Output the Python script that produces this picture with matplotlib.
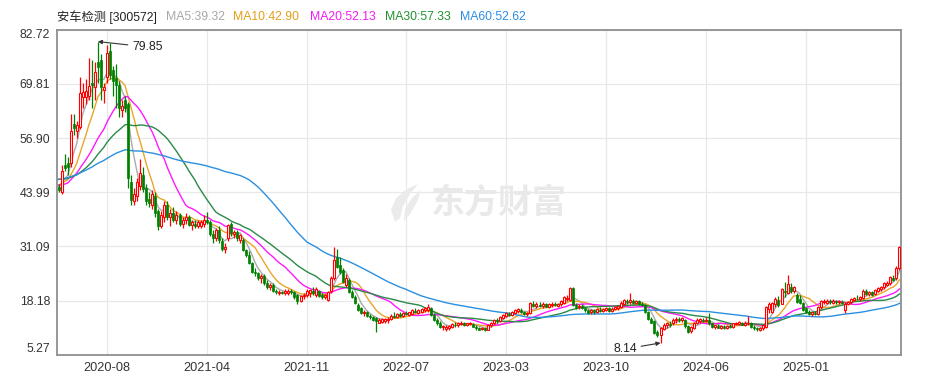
import matplotlib
matplotlib.use('Agg')
import matplotlib.pyplot as plt
from matplotlib.patches import Polygon
import numpy as np
import pandas as pd

plt.rcParams['font.family'] = ['Liberation Sans', 'Noto Sans CJK SC', 'DejaVu Sans']

title = "安车检测 [300572]"
ma_labels = ["MA5:39.32", "MA10:42.90", "MA20:52.13", "MA30:57.33", "MA60:52.62"]
ma_windows = [5, 10, 20, 30, 60]
x_tick_pos = [16, 49, 82, 115, 148, 181, 214, 247]
x_tick_labels = ["2020-08", "2021-04", "2021-11", "2022-07", "2023-03", "2023-10", "2024-06", "2025-01"]
y_ticks = [5.27, 18.18, 31.09, 43.99, 56.90, 69.81, 82.72]
high_label = 79.85
low_label = 8.14

# weekly closes before the visible window (used only for the moving averages)
prior_closes = [40.5, 41.2, 42.0, 43.1, 44.5, 45.0, 46.2, 47.5, 48.0, 47.2,
                46.5, 45.8, 46.9, 48.3, 49.0, 48.1, 47.3, 46.0, 45.2, 46.4,
                47.8, 49.2, 50.5, 49.7, 48.6, 47.9, 48.8, 50.1, 51.3, 50.2,
                49.0, 48.2, 47.5, 48.9, 50.4, 51.8, 52.6, 51.5, 50.3, 49.1,
                47.6, 46.3, 45.1, 43.8, 42.9, 44.2, 45.6, 46.8, 47.9, 46.7,
                45.5, 44.8, 45.9, 47.1, 46.3, 45.4, 44.9, 45.8, 46.5]

opens = [45.3, 44.0, 50.5, 51.0, 51.0, 60.3, 58.5, 59.5, 66.7, 66.7,
         66.8, 70.0, 69.1, 74.9, 75.5, 68.3, 71.4, 77.5, 73.0, 71.2,
         69.5, 63.5, 66.0, 65.0, 46.5, 42.0, 43.0, 45.5, 48.0, 45.0,
         42.5, 41.0, 43.0, 39.5, 36.0, 38.0, 41.0, 38.0, 39.0, 37.5,
         38.5, 36.5, 37.5, 38.0, 36.3, 36.5, 36.0, 36.0, 36.5, 37.5,
         37.0, 34.0, 33.0, 35.0, 32.5, 30.5, 33.1, 36.5, 34.0, 34.5,
         32.6, 32.6, 30.2, 29.0, 27.2, 25.0, 24.8, 23.5, 24.0, 22.4,
         21.5, 22.0, 20.5, 20.0, 20.3, 20.0, 20.0, 20.6, 20.2, 19.5,
         18.2, 19.2, 19.5, 20.0, 20.5, 19.5, 20.5, 19.5, 19.0, 18.3,
         20.5, 23.5, 28.6, 26.7, 25.5, 22.0, 23.0, 20.3, 19.0, 17.2,
         16.5, 15.3, 15.5, 14.5, 14.2, 14.0, 13.0, 13.2, 13.3, 13.5,
         13.9, 14.6, 14.4, 15.0, 14.6, 15.2, 14.8, 15.0, 15.8, 15.3,
         15.6, 16.0, 16.0, 16.5, 14.8, 13.6, 12.8, 11.9, 11.5, 11.8,
         12.0, 12.5, 12.3, 12.6, 12.8, 12.4, 12.6, 12.7, 12.0, 11.6,
         11.4, 11.8, 11.3, 12.3, 12.8, 13.5, 13.3, 14.0, 14.6, 15.0,
         14.8, 15.3, 15.8, 16.0, 15.4, 15.1, 15.3, 17.4, 16.9, 17.2,
         17.0, 17.3, 16.8, 17.1, 17.4, 17.0, 17.3, 17.6, 18.6, 18.4,
         21.2, 17.2, 16.6, 17.0, 16.5, 16.0, 15.4, 15.9, 15.4, 16.0,
         15.7, 16.0, 16.4, 15.8, 16.2, 16.5, 16.8, 17.5, 18.2, 17.8,
         18.1, 17.7, 18.0, 17.5, 17.2, 15.5, 13.9, 13.3, 10.8, 10.0,
         11.5, 12.3, 12.6, 12.8, 13.5, 13.8, 13.5, 13.7, 12.2, 10.9,
         11.8, 12.8, 13.3, 13.6, 13.4, 13.6, 12.8, 11.9, 12.2, 11.8,
         12.0, 11.7, 12.1, 12.0, 12.6, 12.7, 12.9, 12.5, 12.8, 12.9,
         12.0, 11.6, 11.3, 11.6, 12.0, 16.2, 15.5, 17.3, 18.3, 17.5,
         20.5, 20.0, 21.5, 20.4, 19.5, 18.5, 17.6, 16.4, 15.6, 15.1,
         15.3, 15.0, 16.6, 17.8, 17.7, 18.0, 17.7, 18.0, 17.8, 17.9,
         16.0, 17.5, 17.8, 18.3, 18.7, 18.5, 18.9, 20.4, 19.7, 20.2,
         19.7, 20.5, 21.0, 21.4, 22.0, 22.3, 23.5, 23.6, 26.0]

highs = [46.0, 50.5, 53.0, 52.5, 62.5, 62.5, 61.0, 71.5, 70.0, 71.0,
         76.0, 75.5, 75.0, 79.85, 77.0, 70.0, 79.0, 79.6, 74.0, 74.5,
         70.5, 66.0, 67.0, 65.5, 48.0, 45.0, 47.5, 52.0, 50.0, 46.0,
         44.0, 44.5, 44.0, 40.0, 39.5, 42.0, 42.0, 40.0, 40.5, 39.5,
         39.0, 38.0, 39.0, 38.5, 37.5, 37.5, 37.5, 37.5, 38.5, 39.3,
         37.5, 35.0, 35.5, 36.0, 33.0, 32.0, 36.5, 37.0, 35.0, 35.0,
         34.0, 33.0, 30.5, 30.0, 27.5, 26.0, 25.0, 24.5, 24.5, 23.0,
         22.5, 22.4, 21.0, 20.8, 20.6, 21.0, 21.0, 21.0, 20.5, 19.8,
         19.5, 20.0, 21.0, 21.0, 21.5, 21.5, 20.8, 20.0, 19.8, 20.5,
         24.0, 31.0, 30.5, 28.5, 26.0, 24.5, 23.5, 20.8, 19.5, 17.6,
         16.8, 16.0, 15.8, 15.0, 14.5, 14.3, 14.0, 14.0, 14.0, 14.2,
         15.0, 15.5, 15.2, 15.6, 15.4, 15.8, 15.6, 16.2, 16.5, 16.2,
         16.5, 16.8, 17.3, 16.8, 15.2, 14.0, 13.3, 12.5, 12.3, 12.5,
         13.0, 13.2, 13.1, 13.3, 13.2, 13.0, 13.2, 13.0, 12.3, 12.0,
         12.0, 12.0, 12.6, 13.2, 13.8, 14.0, 14.5, 15.0, 15.6, 15.5,
         15.8, 16.3, 16.5, 16.5, 15.8, 15.5, 17.8, 18.2, 17.8, 17.9,
         17.8, 17.7, 17.6, 17.8, 17.9, 17.6, 18.3, 19.3, 19.5, 21.5,
         21.4, 17.6, 17.3, 17.4, 16.7, 16.3, 16.2, 16.1, 16.4, 16.6,
         16.4, 16.8, 16.7, 16.6, 16.9, 17.2, 18.0, 18.6, 18.6, 20.0,
         18.5, 18.4, 18.3, 17.9, 17.4, 15.8, 14.2, 13.6, 11.3, 12.0,
         12.8, 13.2, 13.3, 14.0, 14.2, 14.3, 14.3, 13.9, 12.5, 12.2,
         13.2, 14.0, 14.1, 14.0, 14.3, 15.3, 13.0, 12.5, 12.6, 12.4,
         12.5, 12.3, 12.6, 13.0, 13.2, 13.3, 13.2, 13.3, 14.5, 13.1,
         12.4, 12.0, 12.0, 12.5, 16.9, 17.8, 17.8, 19.0, 19.2, 21.3,
         22.6, 24.3, 22.5, 21.8, 20.0, 19.5, 17.9, 16.8, 16.0, 15.6,
         15.8, 16.9, 18.4, 18.6, 18.5, 18.6, 18.5, 18.4, 18.3, 18.4,
         17.8, 18.2, 18.8, 19.0, 19.5, 19.3, 20.9, 21.0, 20.5, 20.6,
         21.0, 21.5, 21.8, 22.6, 22.8, 24.0, 24.3, 26.5, 31.1]

lows = [44.0, 43.5, 49.0, 48.0, 50.0, 57.5, 57.0, 59.0, 64.0, 65.0,
        66.0, 64.0, 66.0, 70.0, 66.0, 65.2, 70.0, 71.0, 67.0, 64.0,
        62.0, 62.0, 63.0, 45.0, 41.0, 41.0, 42.0, 44.5, 44.0, 41.0,
        40.5, 40.0, 38.0, 35.0, 35.5, 37.0, 37.5, 36.0, 37.0, 36.5,
        36.0, 35.5, 36.5, 36.0, 35.0, 35.5, 35.5, 35.5, 35.8, 36.5,
        33.5, 32.0, 32.5, 32.0, 30.0, 29.5, 32.5, 33.5, 33.0, 32.5,
        32.0, 30.0, 28.5, 27.0, 24.8, 24.0, 23.0, 22.5, 22.0, 21.0,
        20.7, 20.2, 19.8, 19.5, 19.7, 19.6, 19.5, 19.8, 18.5, 17.5,
        17.8, 18.5, 19.0, 19.0, 19.5, 19.0, 19.0, 18.5, 18.5, 18.0,
        20.0, 23.0, 26.0, 24.5, 22.5, 21.5, 20.0, 18.8, 17.4, 15.8,
        15.0, 14.5, 14.2, 13.8, 13.3, 10.7, 12.8, 12.9, 13.0, 13.0,
        13.5, 14.0, 14.0, 14.3, 14.3, 14.8, 14.5, 14.8, 15.3, 15.0,
        15.3, 15.6, 15.6, 14.5, 13.3, 12.5, 11.6, 11.3, 11.0, 11.2,
        11.8, 12.0, 12.0, 12.3, 12.2, 12.1, 12.3, 11.9, 11.3, 11.1,
        11.1, 11.0, 11.1, 12.0, 12.5, 13.0, 13.1, 13.8, 14.3, 14.5,
        14.5, 15.0, 15.3, 15.2, 14.8, 14.6, 15.0, 16.6, 16.5, 16.7,
        16.5, 16.6, 16.4, 16.8, 16.9, 16.7, 17.0, 17.4, 18.0, 18.2,
        17.0, 16.3, 16.2, 16.3, 15.6, 15.0, 15.1, 15.0, 15.2, 15.5,
        15.4, 15.7, 15.6, 15.5, 15.9, 16.0, 16.5, 17.2, 17.5, 17.4,
        17.4, 17.3, 17.2, 16.9, 15.3, 13.6, 12.8, 10.3, 9.5, 8.14,
        11.2, 11.8, 11.9, 12.5, 13.0, 13.2, 13.2, 11.8, 10.5, 10.6,
        11.5, 12.6, 12.9, 13.1, 13.2, 12.5, 11.6, 11.5, 11.6, 11.5,
        11.4, 11.5, 11.7, 11.8, 12.3, 12.4, 12.3, 12.2, 12.5, 11.7,
        11.3, 11.0, 11.0, 11.3, 11.8, 15.3, 15.3, 16.7, 16.8, 17.3,
        19.0, 19.8, 20.0, 20.0, 17.6, 17.4, 15.8, 15.3, 14.8, 14.6,
        14.7, 14.8, 16.3, 17.3, 17.4, 17.5, 17.4, 17.5, 17.4, 17.3,
        15.2, 17.2, 17.5, 18.0, 18.3, 18.2, 18.6, 19.5, 19.3, 19.4,
        19.5, 20.2, 20.6, 21.0, 21.6, 22.0, 22.8, 23.2, 25.5]

closes = [44.6, 49.0, 49.8, 50.0, 58.5, 59.3, 60.0, 67.5, 67.9, 68.0,
          69.3, 69.5, 72.7, 73.9, 69.0, 69.1, 77.1, 72.0, 70.5, 69.5,
          64.0, 64.5, 64.0, 47.3, 42.2, 43.5, 46.5, 48.5, 44.8, 42.0,
          41.5, 43.5, 39.0, 36.0, 38.5, 41.0, 38.0, 39.0, 37.5, 38.5,
          36.5, 37.5, 38.0, 36.3, 37.0, 36.0, 37.0, 37.0, 37.4, 37.0,
          34.0, 33.0, 35.0, 32.6, 30.5, 31.0, 36.2, 34.3, 34.5, 33.0,
          33.8, 30.2, 29.0, 27.2, 25.0, 24.8, 23.5, 24.0, 22.4, 21.5,
          22.0, 20.5, 20.2, 20.3, 20.0, 20.5, 20.6, 20.2, 19.0, 18.0,
          19.2, 19.5, 20.5, 20.8, 20.0, 21.0, 19.2, 19.0, 19.5, 20.3,
          23.5, 27.9, 26.2, 25.0, 22.7, 23.6, 20.3, 19.0, 17.6, 16.0,
          15.3, 15.5, 14.5, 14.2, 13.6, 13.4, 13.6, 13.8, 13.9, 13.9,
          14.6, 14.4, 15.0, 14.6, 15.2, 15.0, 15.4, 16.0, 15.5, 16.0,
          16.2, 16.5, 16.8, 14.8, 13.6, 12.8, 11.9, 12.1, 11.9, 12.2,
          12.7, 12.4, 12.9, 13.0, 12.5, 12.8, 12.9, 12.0, 11.6, 11.3,
          11.8, 11.2, 12.4, 13.0, 13.6, 13.4, 14.3, 14.8, 15.3, 14.8,
          15.5, 16.0, 16.2, 15.4, 15.1, 15.3, 17.6, 16.9, 17.4, 17.0,
          17.5, 16.8, 17.3, 17.5, 17.2, 17.4, 18.0, 19.0, 18.9, 21.2,
          17.2, 16.6, 17.0, 16.5, 16.0, 15.3, 15.9, 15.4, 16.1, 15.8,
          16.2, 16.5, 15.8, 16.3, 16.6, 17.0, 17.6, 18.4, 17.8, 18.3,
          17.7, 18.0, 17.4, 17.2, 15.5, 13.9, 13.0, 10.6, 10.0, 11.8,
          12.5, 12.9, 12.4, 13.7, 13.9, 13.6, 14.0, 12.2, 10.8, 11.9,
          12.9, 13.6, 13.8, 13.4, 13.6, 12.8, 11.9, 12.3, 11.8, 12.1,
          11.7, 12.2, 12.0, 12.8, 12.9, 13.1, 12.5, 13.0, 13.0, 12.0,
          11.6, 11.4, 11.8, 12.3, 16.7, 17.5, 17.6, 18.7, 17.2, 21.0,
          20.2, 22.2, 20.4, 21.5, 17.8, 17.7, 16.0, 15.6, 15.1, 15.4,
          15.0, 16.7, 18.1, 18.0, 18.2, 17.8, 18.2, 17.8, 18.0, 17.6,
          17.5, 17.9, 18.5, 18.8, 18.5, 19.0, 20.6, 19.7, 20.2, 19.6,
          20.8, 21.2, 21.5, 22.4, 22.3, 23.8, 23.2, 26.0, 31.0]

ma_colors = ['#ababab', '#e8a52a', '#ff19ff', '#2a8a48', '#2b8fe0']
ma_text_colors = ['#a8a8a8', '#e39d1b', '#f21cf2', '#23912f', '#2a8de0']
up_color = '#ff0000'
down_color = '#008000'

W, H = 926, 373
fig = plt.figure(figsize=(W / 100, H / 100), dpi=100)
L, R, T, B = 57, 901, 29.5, 355
ax = fig.add_axes([L / W, 1 - B / H, (R - L) / W, (B - T) / H])

n = len(closes)
x = np.arange(n)
o = np.array(opens); c = np.array(closes); h = np.array(highs); l = np.array(lows)
up = c >= o

# moving averages
allc = pd.Series(prior_closes + closes)
for win, col in zip(ma_windows, ma_colors):
    ma = allc.rolling(win, min_periods=1).mean().values[-n:]
    ax.plot(x, ma, color=col, lw=1.0, zorder=3)

# candles
bw = 0.66
ax.vlines(x[up], l[up], h[up], color=up_color, lw=0.9, zorder=4)
ax.vlines(x[~up], l[~up], h[~up], color=down_color, lw=0.9, zorder=4)
bot = np.minimum(o, c)
hgt = np.maximum(np.abs(c - o), 0.12)
ax.bar(x[up], hgt[up], bottom=bot[up], width=bw, facecolor='white',
       edgecolor=up_color, linewidth=0.8, zorder=5)
ax.bar(x[~up], hgt[~up], bottom=bot[~up], width=bw, facecolor=down_color,
       edgecolor=down_color, linewidth=0.5, zorder=5)

ax.set_xlim(-0.5, n - 0.5)
ax.set_ylim(y_ticks[0], y_ticks[-1])
ax.set_yticks(y_ticks)
ax.set_yticklabels([f"{v:.2f}" for v in y_ticks], fontsize=8.8, color='#333333')
labs = ax.get_yticklabels()
labs[0].set_va('bottom')
labs[-1].set_va('top')
ax.set_xticks(x_tick_pos)
ax.set_xticklabels(x_tick_labels, fontsize=9.2, color='#333333')
ax.tick_params(length=0, pad=5)
ax.tick_params(axis='x', pad=5)
ax.grid(True, color='#e8e8e8', lw=0.9, zorder=0)
ax.set_axisbelow(True)
for s in ax.spines.values():
    s.set_color('#8f8f8f')
    s.set_linewidth(1.3)

# watermark (logo + text), drawn inside the axes below the data
def px(pts):
    return [(xx / 100, (H - yy) / 100) for xx, yy in pts]

logo1 = px([(395, 222), (391, 210), (396, 198), (407, 189), (418, 184),
            (410, 194), (403, 206), (400, 218)])
logo2 = px([(404, 221), (405, 209), (412, 198), (421, 190),
            (417, 202), (410, 214)])
for pts in (logo1, logo2):
    ax.add_patch(Polygon(pts, closed=True, transform=fig.dpi_scale_trans,
                         facecolor='#ebebeb', edgecolor='none', zorder=1))
ax.text(499 / W, 1 - 203 / H, "东方财富", fontsize=24.5, fontweight='bold',
        color='#e9e9e9', ha='center', va='center', family=['Noto Sans CJK SC'],
        transform=fig.transFigure, zorder=1)

# high / low annotations
ihi = int(np.argmax(h)); ilo = int(np.argmin(l))
ax.annotate(f"{high_label:.2f}", xy=(ihi, h[ihi]), xytext=(132, H - 47),
            textcoords='figure pixels', fontsize=8.8, color='#222222', va='center', ha='left',
            arrowprops=dict(arrowstyle='-|>', color='#333333', lw=0.8, mutation_scale=6,
                            shrinkA=1, shrinkB=0))
ax.annotate(f"{low_label:.2f}", xy=(ilo, l[ilo]), xytext=(637, H - 349),
            textcoords='figure pixels', fontsize=8.8, color='#222222', va='center', ha='right',
            arrowprops=dict(arrowstyle='-|>', color='#333333', lw=0.8, mutation_scale=6,
                            shrinkA=1, shrinkB=0))

# header
fig.text(56.7 / W, 1 - 17 / H, title, fontsize=8.8, color='#222222', va='center', ha='left')
for pxx, txt, col in zip([165.7, 233.3, 310, 385, 460], ma_labels, ma_text_colors):
    fig.text(pxx / W, 1 - 17 / H, txt, fontsize=8.8, color=col, va='center', ha='left')

fig.savefig('out.png', dpi=100)
